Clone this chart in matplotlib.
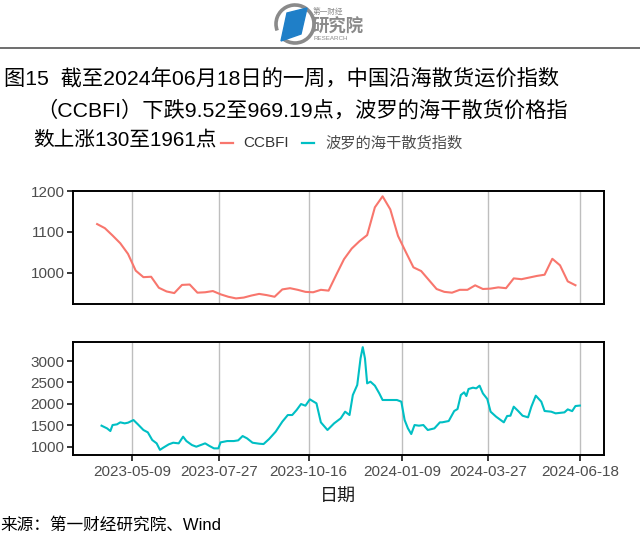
import matplotlib
matplotlib.use("Agg")
import matplotlib.pyplot as plt
import matplotlib.dates as mdates
from matplotlib.patches import Polygon, Arc
from matplotlib.lines import Line2D
import pandas as pd

# ---------------- data ----------------
ccbfi_start = "2023-04-07"
ccbfi_values = [1119, 1109, 1091, 1072, 1046, 1005, 989, 990, 963, 954,
                950, 970, 971, 951, 952, 955, 947, 941, 937, 939,
                944, 948, 945, 941, 959, 962, 958, 953, 952, 958,
                956, 995, 1033, 1059, 1077, 1092, 1160, 1187, 1155, 1090,
                1051, 1013, 1004, 982, 960, 953, 951, 958, 958, 969,
                960, 961, 964, 962, 986, 984, 988, 992, 995, 1034,
                1018, 978.71, 969.19]

bdi_dates = ["2023-04-11", "2023-04-16", "2023-04-19", "2023-04-21", "2023-04-25",
             "2023-04-28", "2023-05-02", "2023-05-05", "2023-05-10", "2023-05-14",
             "2023-05-19", "2023-05-23", "2023-05-27", "2023-05-31", "2023-06-03",
             "2023-06-06", "2023-06-11", "2023-06-15", "2023-06-20", "2023-06-24",
             "2023-06-27", "2023-07-02", "2023-07-06", "2023-07-10", "2023-07-14",
             "2023-07-18", "2023-07-22", "2023-07-26", "2023-07-28", "2023-08-03",
             "2023-08-09", "2023-08-13", "2023-08-17", "2023-08-21", "2023-08-26",
             "2023-09-01", "2023-09-05", "2023-09-10", "2023-09-16", "2023-09-22",
             "2023-09-27", "2023-10-01", "2023-10-05", "2023-10-09", "2023-10-13",
             "2023-10-17", "2023-10-23", "2023-10-27", "2023-11-02", "2023-11-08",
             "2023-11-14", "2023-11-18", "2023-11-22", "2023-11-25", "2023-11-29",
             "2023-12-02", "2023-12-04", "2023-12-06", "2023-12-08", "2023-12-11",
             "2023-12-15", "2023-12-19", "2023-12-22", "2023-12-29", "2024-01-04",
             "2024-01-08", "2024-01-11", "2024-01-14", "2024-01-17", "2024-01-20",
             "2024-01-24", "2024-01-28", "2024-02-01", "2024-02-07", "2024-02-12",
             "2024-02-14", "2024-02-20", "2024-02-25", "2024-02-28", "2024-03-02",
             "2024-03-05", "2024-03-07", "2024-03-09", "2024-03-13", "2024-03-16",
             "2024-03-19", "2024-03-22", "2024-03-26", "2024-03-29", "2024-04-03",
             "2024-04-10", "2024-04-13", "2024-04-16", "2024-04-19", "2024-04-23",
             "2024-04-27", "2024-05-02", "2024-05-05", "2024-05-09", "2024-05-14",
             "2024-05-17", "2024-05-23", "2024-05-27", "2024-06-04", "2024-06-07",
             "2024-06-11", "2024-06-14", "2024-06-18"]
bdi_values = [1491, 1428, 1366, 1506, 1522,
              1569, 1545, 1561, 1623, 1522,
              1390, 1335, 1156, 1078, 926,
              977, 1055, 1093, 1078, 1234,
              1132, 1039, 1000, 1039, 1078,
              1016, 961, 961, 1101, 1132,
              1132, 1148, 1249, 1195, 1093,
              1070, 1062, 1179, 1351, 1584,
              1740, 1740, 1857, 1997, 1958,
              2106, 2013, 1569, 1390, 1545,
              1662, 1818, 1740, 2207, 2441,
              3064, 3326, 3064, 2480, 2519,
              2426, 2246, 2091, 2091, 2091,
              2052, 1623, 1428, 1296, 1506,
              1491, 1506, 1390, 1428, 1569,
              1569, 1600, 1834, 1880, 2207,
              2270, 2184, 2348, 2379, 2363,
              2426, 2246, 2114, 1818, 1701,
              1569, 1717, 1724, 1935, 1834,
              1724, 1686, 1935, 2192, 2052,
              1834, 1818, 1779, 1802, 1872,
              1831, 1950, 1961]

x_tick_labels = ["2023-05-09", "2023-07-27", "2023-10-16",
                 "2024-01-09", "2024-03-27", "2024-06-18"]
top_yticks = [1000, 1100, 1200]
bottom_yticks = [1000, 1500, 2000, 2500, 3000]

series_names = ["CCBFI", "波罗的海干散货指数"]
title_lines = ["图15  截至2024年06月18日的一周，中国沿海散货运价指数",
               "（CCBFI）下跌9.52至969.19点，波罗的海干散货价格指",
               "数上涨130至1961点"]
x_label = "日期"
source_text = "来源：第一财经研究院、Wind"

# ---------------- style ----------------
RED = "#F8766D"
CYAN = "#00BFC4"
FONT = ["Liberation Sans", "Noto Sans CJK SC", "DejaVu Sans"]
CJK = ["Noto Sans CJK SC", "DejaVu Sans"]
plt.rcParams["font.family"] = FONT

W, H = 640, 546
fig = plt.figure(figsize=(W / 100, H / 100), dpi=100)


def fx(x):
    return x / W


def fy(y):
    return 1 - y / H


ccbfi_dates = pd.date_range(ccbfi_start, periods=len(ccbfi_values), freq="7D")
bdi_dt = pd.to_datetime(bdi_dates)
xt = pd.to_datetime(x_tick_labels)

xmin_d = min(ccbfi_dates.min(), bdi_dt.min())
xmax_d = max(ccbfi_dates.max(), bdi_dt.max())
xr = mdates.date2num(xmax_d) - mdates.date2num(xmin_d)
xlim = (mdates.date2num(xmin_d) - 0.05 * xr, mdates.date2num(xmax_d) + 0.05 * xr)


def ylim_of(vals):
    lo, hi = min(vals), max(vals)
    r = hi - lo
    return lo - 0.05 * r, hi + 0.05 * r


def style_axes(ax, show_x):
    for s in ax.spines.values():
        s.set_color("black")
        s.set_linewidth(1.4)
    ax.set_xlim(*xlim)
    ax.set_xticks(mdates.date2num(xt))
    ax.grid(axis="x", color="#bebebe", lw=1.0)
    ax.set_axisbelow(True)
    ax.tick_params(axis="y", direction="out", length=4, width=1.1,
                   color="black", labelsize=11, labelcolor="#4d4d4d", pad=2)
    if show_x:
        ax.set_xticklabels(x_tick_labels)
        ax.tick_params(axis="x", direction="out", length=4, width=1.1,
                       color="black", labelsize=11, labelcolor="#4d4d4d", pad=3)
    else:
        ax.tick_params(axis="x", length=0, labelbottom=False)


# top panel
ax1 = fig.add_axes([fx(73), fy(303.5), (604 - 73) / W, (303.5 - 191) / H])
ax1.plot(ccbfi_dates, ccbfi_values, color=RED, lw=1.5)
style_axes(ax1, False)
ax1.set_ylim(*ylim_of(ccbfi_values))
ax1.set_yticks(top_yticks)

# bottom panel
ax2 = fig.add_axes([fx(73), fy(455), (604 - 73) / W, (455 - 342) / H])
ax2.plot(bdi_dt, bdi_values, color=CYAN, lw=1.5)
style_axes(ax2, True)
ax2.set_ylim(*ylim_of(bdi_values))
ax2.set_yticks(bottom_yticks)

# x label
fig.text(fx(338), fy(497), x_label, ha="center", va="center",
         fontsize=13, color="#1a1a1a", family=CJK)

# legend (manual, ggplot-like top legend)
ly = fy(143)
fig.add_artist(Line2D([fx(221), fx(233)], [ly, ly], color=RED, lw=1.6))
fig.text(fx(243), ly, series_names[0], ha="left", va="center",
         fontsize=11, color="#333333")
fig.add_artist(Line2D([fx(302), fx(314)], [ly, ly], color=CYAN, lw=1.6))
fig.text(fx(325), ly, series_names[1], ha="left", va="center",
         fontsize=11, color="#4d4d4d", family=CJK)

# title
fig.text(fx(4), fy(78), title_lines[0], ha="left", va="center",
         fontsize=15.3, color="black")
fig.text(fx(36), fy(110), title_lines[1], ha="left", va="center",
         fontsize=15.3, color="black")
fig.text(fx(33), fy(140), title_lines[2], ha="left", va="center",
         fontsize=14.9, color="black")

# source
fig.text(fx(0), fy(525), source_text, ha="left", va="center",
         fontsize=12, color="black")

# header rule
fig.add_artist(Line2D([0, 1], [fy(48), fy(48)], color="#555555", lw=1.2))

# logo
axl = fig.add_axes([fx(270), fy(47), 130 / W, 47 / H])
axl.set_xlim(270, 400)
axl.set_ylim(47, 0)
axl.axis("off")
axl.add_patch(Arc((295, 24), 38, 38, theta1=-200, theta2=130,
                  color="#8a8a8a", lw=2.6))
axl.add_patch(Polygon([(287, 13), (307, 8), (301, 34), (281, 41)],
                      closed=True, color="#1f7fc8"))
axl.text(313, 12, "第一财经", fontsize=5.5, color="#8a8a8a", family=CJK,
         ha="left", va="center")
axl.text(312, 27, "研究院", fontsize=12.5, color="#8a8a8a", family=CJK,
         ha="left", va="center", weight="bold")
axl.text(314, 39, "RESEARCH", fontsize=4.5, color="#8a8a8a",
         ha="left", va="center")

fig.savefig("out.png", dpi=100, facecolor="white")
